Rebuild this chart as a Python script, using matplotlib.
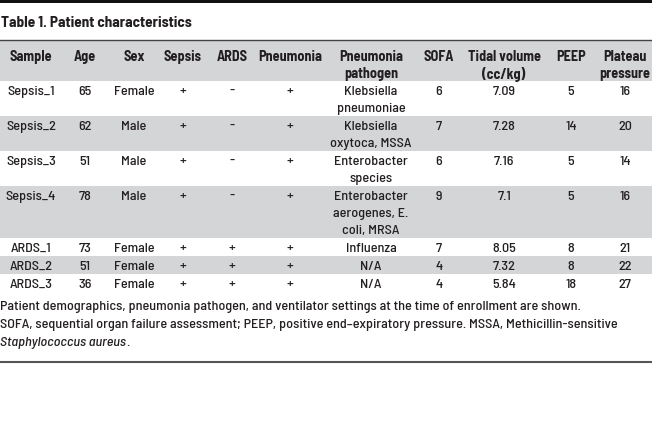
import matplotlib
matplotlib.use("Agg")
import matplotlib.pyplot as plt
from matplotlib.patches import Rectangle

title = "Table 1. Patient characteristics"
headers = ["Sample", "Age", "Sex", "Sepsis", "ARDS", "Pneumonia",
           "Pneumonia\npathogen", "SOFA", "Tidal volume\n(cc/kg)", "PEEP", "Plateau\npressure"]
samples = ["Sepsis_1", "Sepsis_2", "Sepsis_3", "Sepsis_4", "ARDS_1", "ARDS_2", "ARDS_3"]
ages = [65, 62, 51, 78, 73, 51, 36]
sexes = ["Female", "Male", "Male", "Male", "Female", "Female", "Female"]
sepsis = ["+", "+", "+", "+", "+", "+", "+"]
ards = ["-", "-", "-", "-", "+", "+", "+"]
pneumonia = ["+", "+", "+", "+", "+", "+", "+"]
pathogens = ["Klebsiella\npneumoniae", "Klebsiella\noxytoca, MSSA", "Enterobacter\nspecies",
             "Enterobacter\naerogenes, E.\ncoli, MRSA", "Influenza", "N/A", "N/A"]
sofa = [6, 7, 6, 9, 7, 4, 4]
tidal = ["7.09", "7.28", "7.16", "7.1", "8.05", "7.32", "5.84"]
peep = [5, 14, 5, 5, 8, 8, 18]
plateau = [16, 20, 14, 16, 21, 22, 27]
foot1 = "Patient demographics, pneumonia pathogen, and ventilator settings at the time of enrollment are shown."
foot2 = "SOFA, sequential organ failure assessment; PEEP, positive end\u2013expiratory pressure. MSSA, Methicillin-sensitive"
foot3 = "Staphylococcus aureus"

col_x = [31, 85, 134, 183, 232, 290, 371, 439, 504, 571, 625]
FONT = ["Barlow Semi Condensed", "DejaVu Sans"]
FS = 10.2
W = 500
TC = "#231f20"
GRAY = "#d4d5d7"

fig = plt.figure(figsize=(6.52, 4.40), dpi=100)
ax = fig.add_axes([0, 0, 1, 1])
ax.set_xlim(0, 652)
ax.set_ylim(440, 0)
ax.axis("off")

# top bar
ax.add_patch(Rectangle((0, 0), 652, 3.5, color="#111111", lw=0))
ax.text(1, 23, title, fontsize=11, fontweight="bold", family=FONT, color=TC, va="center", ha="left")
ax.plot([0, 652], [40.5, 40.5], color="#444444", lw=1.0)

# header
ax.add_patch(Rectangle((0, 41), 652, 40, color=GRAY, lw=0))
LH = 17
for x, h in zip(col_x, headers):
    for i, line in enumerate(h.split("\n")):
        ax.text(x, 57 + LH * i, line, fontsize=FS, fontweight="bold", family=FONT,
                color=TC, ha="center", va="center")

top = 81
for r in range(len(samples)):
    cells = [samples[r], str(ages[r]), sexes[r], sepsis[r], ards[r], pneumonia[r],
             pathogens[r], str(sofa[r]), tidal[r], str(peep[r]), str(plateau[r])]
    nl = max(c.count("\n") + 1 for c in cells)
    h = LH * nl + 1
    if r % 2 == 1:
        ax.add_patch(Rectangle((0, top), 652, h, color=GRAY, lw=0))
    for x, c in zip(col_x, cells):
        for i, line in enumerate(c.split("\n")):
            ax.text(x, top + 11 + LH * i, line, fontsize=FS, fontweight=W, family=FONT,
                    color=TC, ha="center", va="center")
    top += h

fy = 307
ax.text(0, fy, foot1, fontsize=FS, fontweight=W, family=FONT, color=TC, ha="left", va="center")
ax.text(0, fy + 18, foot2, fontsize=FS, fontweight=W, family=FONT, color=TC, ha="left", va="center")
t3 = ax.text(0, fy + 36, foot3, fontsize=FS, fontweight=W, family=FONT, style="italic", color=TC,
             ha="left", va="center")
ax.annotate(".", xy=(1, 0), xycoords=t3, fontsize=FS, fontweight=W, family=FONT, color=TC,
            ha="left", va="bottom")

ax.plot([0, 652], [362, 362], color="#555555", lw=1.5)

fig.savefig("out.png", dpi=100)
